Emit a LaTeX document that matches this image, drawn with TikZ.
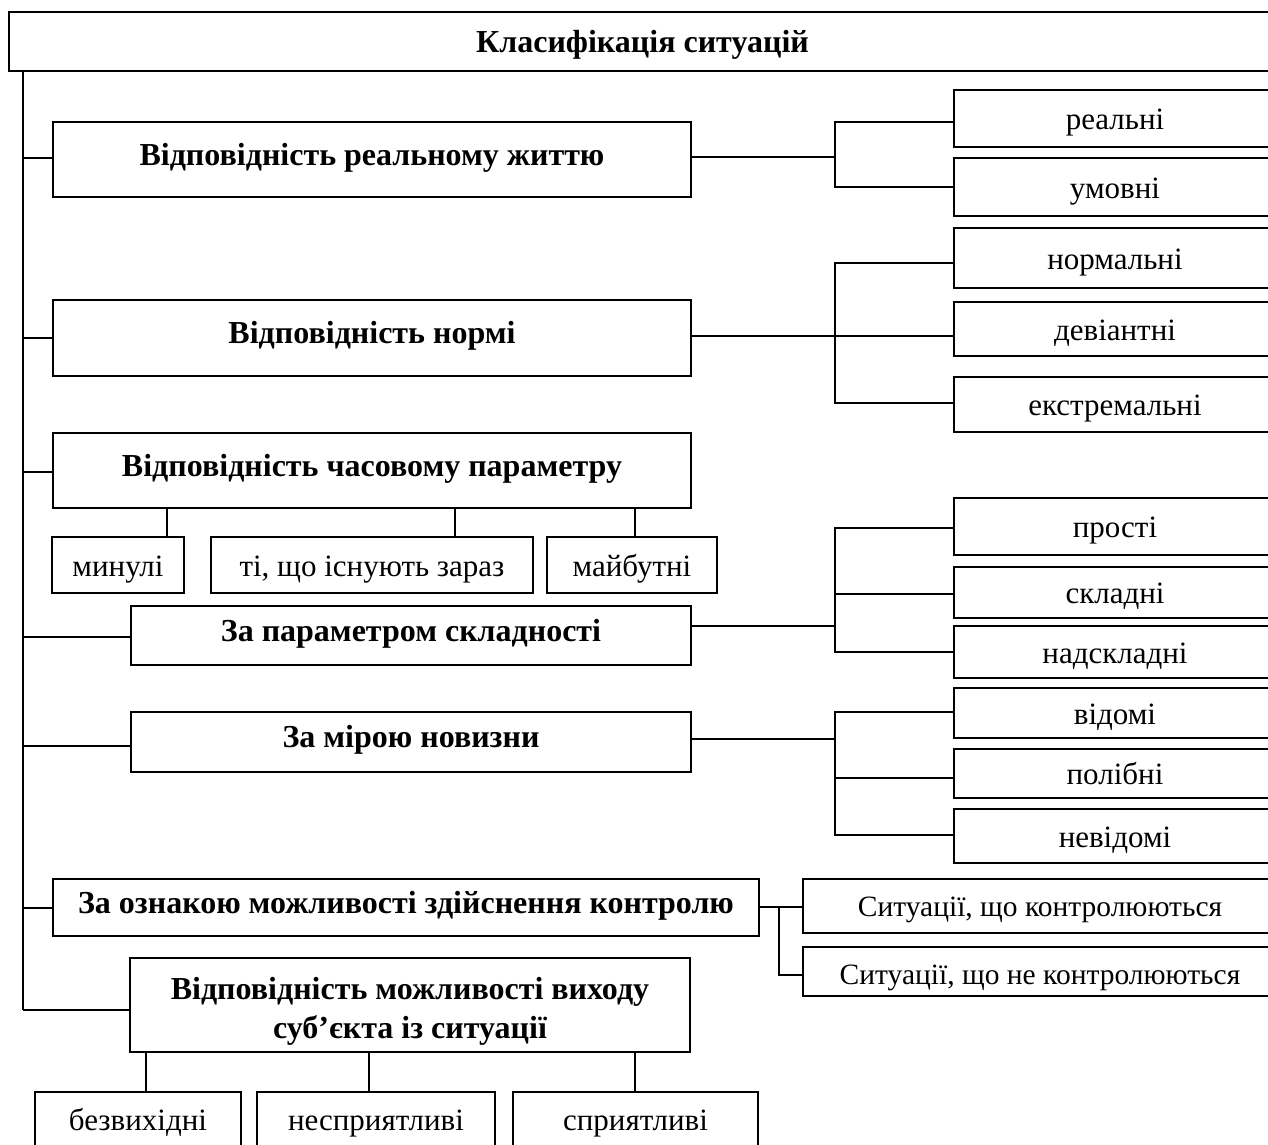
\documentclass[tikz,border=0pt]{standalone}
\usepackage{fontspec}
\setmainfont{Liberation Serif}
% box given by its corners: name, style, x1, y1, x2, y2, text
\newcommand\cornerbox[7]{%
  \node[#2, minimum width={(#5-#3)*1pt}, minimum height={(#6-#4)*1pt}]
    (#1) at ({(#3+#5)/2},{(#4+#6)/2}) {#7};}
\begin{document}
\begin{tikzpicture}[x=1pt,y=-1pt,
  box/.style={draw, line width=1.8pt, inner sep=0pt, align=center},
  head/.style={box, font=\bfseries\fontsize{32}{39}\selectfont,
    text height=18pt, text depth=7pt},
  title/.style={head, text height=28pt, text depth=7pt},
  twoline/.style={box, font=\bfseries\fontsize{32}{39}\selectfont},
  leaf/.style={box, font=\fontsize{31}{38}\selectfont,
    text height=28.4pt, text depth=6.2pt},
  smallleaf/.style={box, font=\fontsize{29.5}{36}\selectfont,
    text height=27.4pt, text depth=5.9pt},
  wire/.style={line width=1.8pt}]
\fill[white] (0,0) rectangle (1268,1144);
\useasboundingbox (0,0) rectangle (1268,1144);
\clip (0,0) rectangle (1268,1144);

% root and the main criteria
\cornerbox{root}{title}{9}{12}{1276}{71}{Класифікація ситуацій}
\cornerbox{A}{head}{53}{122}{691}{197}{Відповідність реальному життю}
\cornerbox{B}{head}{53}{300}{691}{376}{Відповідність нормі}
\cornerbox{C}{head}{53}{433}{691}{508}{Відповідність часовому параметру}
\cornerbox{D}{head}{131}{606}{691}{665}{За параметром складності}
\cornerbox{F}{head}{131}{712}{691}{772}{За мірою новизни}
\cornerbox{G}{head}{53}{879}{759}{936}{За ознакою можливості здійснення контролю}
\cornerbox{E}{twoline}{130}{958}{690}{1052}{\raisebox{-6pt}[\height][\depth]{%
  \begin{tabular}{@{}c@{}}Відповідність можливості виходу\\
  суб’єкта із ситуації\end{tabular}}}

% kinds
\cornerbox{a1}{leaf}{954}{90}{1276}{147}{реальні}
\cornerbox{a2}{leaf}{954}{158}{1276}{216}{умовні}
\cornerbox{b1}{leaf}{954}{228}{1276}{288}{нормальні}
\cornerbox{b2}{leaf}{954}{302}{1276}{356}{девіантні}
\cornerbox{b3}{leaf}{954}{377}{1276}{432}{екстремальні}
\cornerbox{c1}{leaf}{52}{537}{184}{593}{минулі}
\cornerbox{c2}{leaf}{211}{537}{533}{593}{ті, що існують зараз}
\cornerbox{c3}{leaf}{547}{537}{717}{593}{майбутні}
\cornerbox{d1}{leaf}{954}{498}{1276}{555}{прості}
\cornerbox{d2}{leaf}{954}{567}{1276}{618}{складні}
\cornerbox{d3}{leaf}{954}{626}{1276}{678}{надскладні}
\cornerbox{f1}{leaf}{954}{688}{1276}{738}{відомі}
\cornerbox{f2}{leaf}{954}{749}{1276}{798}{полібні}
\cornerbox{f3}{leaf}{954}{809}{1276}{863}{невідомі}
\cornerbox{g1}{smallleaf}{803}{879}{1277}{933}{Ситуації, що контролюються}
\cornerbox{g2}{smallleaf, text height=31pt}{803}{947}{1277}{996}{Ситуації, що не контролюються}
\cornerbox{e1}{leaf}{35}{1092}{241}{1146}{безвихідні}
\cornerbox{e2}{leaf}{257}{1092}{495}{1146}{несприятливі}
\cornerbox{e3}{leaf}{513}{1092}{758}{1146}{сприятливі}

% trunk on the left
\coordinate (trunkend) at (22.7,1010);
\draw[wire] (root.south -| trunkend) -- (trunkend);
\coordinate (tA) at (22.7,158);
\coordinate (tB) at (22.7,338);
\coordinate (tC) at (22.7,472);
\coordinate (tD) at (22.7,637);
\coordinate (tF) at (22.7,746);
\coordinate (tG) at (22.7,908);
\draw[wire] (tA) -- (tA -| A.west);
\draw[wire] (tB) -- (tB -| B.west);
\draw[wire] (tC) -- (tC -| C.west);
\draw[wire] (tD) -- (tD -| D.west);
\draw[wire] (tF) -- (tF -| F.west);
\draw[wire] (tG) -- (tG -| G.west);
\draw[wire] (trunkend) -- (trunkend -| E.west);

% brackets on the right
\coordinate (jA) at (835,157);
\coordinate (jA1) at (835,122);
\coordinate (jA2) at (835,187);
\draw[wire] (jA -| A.east) -- (jA);
\draw[wire] (jA1 -| a1.west) -- (jA1) -- (jA2) -- (jA2 -| a2.west);

\coordinate (jB1) at (835,263);
\coordinate (jB2) at (835,336);
\coordinate (jB3) at (835,403);
\draw[wire] (jB2 -| B.east) -- (jB2 -| b2.west);
\draw[wire] (jB1 -| b1.west) -- (jB1) -- (jB3) -- (jB3 -| b3.west);

\coordinate (jD) at (835,626);
\coordinate (jD1) at (835,528);
\coordinate (jD2) at (835,594);
\coordinate (jD3) at (835,652);
\draw[wire] (jD -| D.east) -- (jD);
\draw[wire] (jD2) -- (jD2 -| d2.west);
\draw[wire] (jD1 -| d1.west) -- (jD1) -- (jD3) -- (jD3 -| d3.west);

\coordinate (jF) at (835,739);
\coordinate (jF1) at (835,712);
\coordinate (jF2) at (835,778);
\coordinate (jF3) at (835,835);
\draw[wire] (jF -| F.east) -- (jF);
\draw[wire] (jF2) -- (jF2 -| f2.west);
\draw[wire] (jF1 -| f1.west) -- (jF1) -- (jF3) -- (jF3 -| f3.west);

\coordinate (jG) at (779,907);
\coordinate (jG2) at (779,975);
\draw[wire] (jG -| G.east) -- (jG -| g1.west);
\draw[wire] (jG) -- (jG2) -- (jG2 -| g2.west);

% drops below the time and exit boxes
\coordinate (xc1) at (167,0);
\coordinate (xc2) at (455,0);
\coordinate (xc3) at (635,0);
\draw[wire] (C.south -| xc1) -- (c1.north -| xc1);
\draw[wire] (C.south -| xc2) -- (c2.north -| xc2);
\draw[wire] (C.south -| xc3) -- (c3.north -| xc3);
\coordinate (xe1) at (146,0);
\coordinate (xe2) at (369,0);
\coordinate (xe3) at (635,0);
\draw[wire] (E.south -| xe1) -- (e1.north -| xe1);
\draw[wire] (E.south -| xe2) -- (e2.north -| xe2);
\draw[wire] (E.south -| xe3) -- (e3.north -| xe3);
\end{tikzpicture}
\end{document}
